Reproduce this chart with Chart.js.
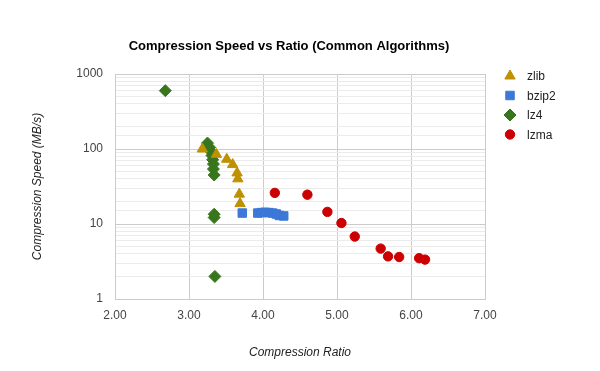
<!DOCTYPE html>
<html>
<head>
<meta charset="utf-8">
<title>Compression Speed vs Ratio</title>
<script src="https://cdn.jsdelivr.net/npm/chart.js@4/dist/chart.umd.min.js"></script>
<style>
  html, body { margin: 0; padding: 0; background: #fff; }
  #wrap { width: 600px; height: 371px; }
</style>
</head>
<body>
<div id="wrap"><canvas id="grafico" width="600" height="371"></canvas></div>
<script>
// Dados: [razão de compressão, velocidade MB/s]
const zlibPontos = [
  [3.18, 100], [3.37, 85], [3.51, 73], [3.59, 62], [3.65, 48],
  [3.66, 40], [3.68, 25], [3.69, 18.7]
];
const bzip2Pontos = [
  [3.72, 14.0], [3.93, 14.0], [3.98, 14.2], [4.03, 14.3], [4.08, 14.2],
  [4.13, 14.0], [4.18, 13.6], [4.22, 13.0], [4.28, 12.8]
];
const lz4Pontos = [
  [2.68, 600], [3.25, 120], [3.28, 105], [3.30, 92], [3.31, 82],
  [3.32, 72], [3.33, 63], [3.33, 54], [3.34, 45], [3.34, 13.5],
  [3.34, 12.2], [3.35, 2.0]
];
const lzmaPontos = [
  [4.16, 26], [4.60, 24.6], [4.87, 14.5], [5.06, 10.3], [5.24, 6.8],
  [5.59, 4.7], [5.69, 3.7], [5.84, 3.63], [6.11, 3.5], [6.19, 3.35]
];

const nomesSeries = ['zlib', 'bzip2', 'lz4', 'lzma'];
const xTickLabels = ['2.00', '3.00', '4.00', '5.00', '6.00', '7.00'];
const yTickLabels = ['1', '10', '100', '1000'];

const tituloGrafico = 'Compression Speed vs Ratio (Common Algorithms)';
const tituloX = 'Compression Ratio';
const tituloY = 'Compression Speed (MB/s)';

const FONTE = "Arial, 'Liberation Sans', sans-serif";

function paraXY(lista) {
  return lista.map(p => ({ x: p[0], y: p[1] }));
}

const estilos = [
  { cor: '#bf9000', forma: 'triangle', raio: 6 },
  { cor: '#3c78d8', forma: 'rect', raio: 6 },
  { cor: '#38761d', forma: 'rectRot', raio: 6 },
  { cor: '#cc0000', forma: 'circle', raio: 4.7 }
];
const seriesDados = [zlibPontos, bzip2Pontos, lz4Pontos, lzmaPontos];

// títulos e legenda desenhados à mão, para posicionar como no original
const textosPlugin = {
  id: 'textos',
  afterDraw(chart) {
    const ctx = chart.ctx;
    const area = chart.chartArea;
    ctx.save();
    ctx.fillStyle = '#000';
    ctx.font = 'bold 13px ' + FONTE;
    ctx.textAlign = 'center';
    ctx.textBaseline = 'middle';
    ctx.fillText(tituloGrafico, 289, 46);

    ctx.fillStyle = '#222';
    ctx.font = 'italic 12px ' + FONTE;
    ctx.fillText(tituloX, (area.left + area.right) / 2, 353);

    ctx.save();
    ctx.translate(38, (area.top + area.bottom) / 2);
    ctx.rotate(-Math.PI / 2);
    ctx.fillText(tituloY, 0, 0);
    ctx.restore();

    // legenda
    ctx.textAlign = 'left';
    ctx.font = '12px ' + FONTE;
    chart.data.datasets.forEach((ds, i) => {
      const y = 76 + i * 19.5;
      ctx.save();
      ctx.fillStyle = ds.backgroundColor;
      ctx.strokeStyle = ds.backgroundColor;
      ctx.lineWidth = 1;
      Chart.helpers.drawPoint(ctx, {
        pointStyle: ds.pointStyle,
        radius: ds.pointRadius,
        borderWidth: 1
      }, 510, y);
      ctx.restore();
      ctx.fillStyle = '#222';
      ctx.fillText(ds.label, 527, y + 1);
    });
    ctx.restore();
  }
};

function ehPotenciaDe10(v) {
  const l = Math.log10(v);
  return Math.abs(l - Math.round(l)) < 1e-9;
}

const ctx = document.getElementById('grafico').getContext('2d');
new Chart(ctx, {
  type: 'scatter',
  data: {
    datasets: seriesDados.map((pts, i) => ({
      label: nomesSeries[i],
      data: paraXY(pts),
      backgroundColor: estilos[i].cor,
      borderColor: estilos[i].cor,
      borderWidth: 1,
      pointStyle: estilos[i].forma,
      pointRadius: estilos[i].raio,
      pointHoverRadius: estilos[i].raio
    }))
  },
  options: {
    responsive: false,
    animation: false,
    layout: { padding: { left: 0, right: 115, top: 74, bottom: 0 } },
    plugins: {
      legend: { display: false },
      title: { display: false },
      tooltip: { enabled: false }
    },
    scales: {
      x: {
        type: 'linear',
        min: 2,
        max: 7,
        afterFit(scale) { scale.height = 72; },
        ticks: {
          stepSize: 1,
          padding: 9,
          color: '#444',
          font: { size: 12, family: FONTE },
          callback: (v) => xTickLabels[Math.round(v - 2)]
        },
        grid: { color: '#cccccc', drawTicks: false },
        border: { color: '#cccccc' }
      },
      y: {
        type: 'logarithmic',
        min: 1,
        max: 1000,
        afterFit(scale) { scale.width = 115; },
        ticks: {
          padding: 12,
          color: '#444',
          autoSkip: false,
          font: { size: 12, family: FONTE },
          callback: (v) => ehPotenciaDe10(v) ? yTickLabels[Math.round(Math.log10(v))] : ''
        },
        grid: {
          drawTicks: false,
          color: (c) => (c.tick && ehPotenciaDe10(c.tick.value)) ? '#cccccc' : '#ebebeb'
        },
        border: { color: '#cccccc' }
      }
    }
  },
  plugins: [textosPlugin]
});
</script>
</body>
</html>
